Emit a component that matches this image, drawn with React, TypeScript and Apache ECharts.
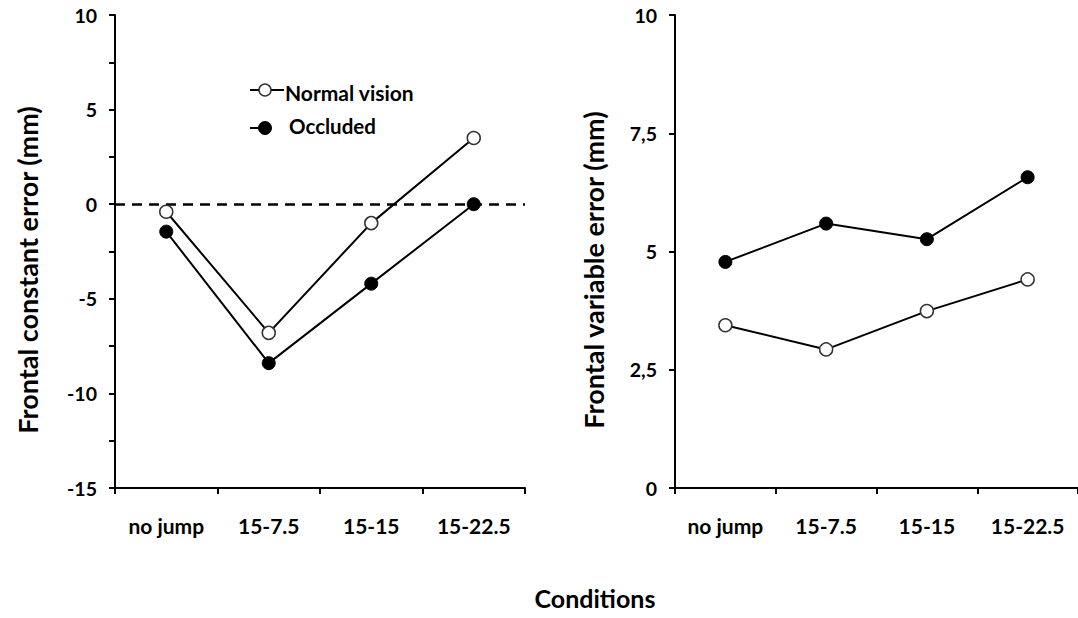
import React, { useEffect, useRef } from "react";
import * as echarts from "echarts";

const categories = ["no jump", "15-7.5", "15-15", "15-22.5"];
const constNormal = [-0.4, -6.8, -1.0, 3.5];
const constOccluded = [-1.45, -8.4, -4.2, 0.0];
const varNormal = [3.44, 2.93, 3.74, 4.41];
const varOccluded = [4.78, 5.59, 5.26, 6.57];
const seriesNames = ["Normal vision", "Occluded"];
const axisNames = ["Frontal constant error (mm)", "Frontal variable error (mm)"];
const xTitle = "Conditions";

const FONT = "Lato, 'Open Sans', sans-serif";
const BLACK = "#000";

export default function App() {
  const ref = useRef<HTMLDivElement>(null);
  useEffect(() => {
    if (!ref.current) return;
    const chart = echarts.init(ref.current, null, { renderer: "svg" });
    const xAxisBase = (gridIndex: number) => ({
      type: "category" as const,
      gridIndex,
      data: categories,
      boundaryGap: true,
      axisLine: { show: true, onZero: false, lineStyle: { color: BLACK, width: 2 } },
      axisTick: { show: true, length: 6, inside: false, lineStyle: { color: BLACK, width: 2 } },
      axisLabel: { color: BLACK, fontFamily: FONT, fontWeight: "bold", fontSize: 21, margin: 27 },
      splitLine: { show: false },
    });
    const lineSeries = (name: string, data: number[], idx: number, filled: boolean, extra: any = {}) => ({
      type: "line",
      name,
      xAxisIndex: idx,
      yAxisIndex: idx,
      data,
      symbol: "circle",
      symbolSize: 13,
      showSymbol: true,
      lineStyle: { color: BLACK, width: 2 },
      itemStyle: filled
        ? { color: BLACK, borderColor: BLACK, borderWidth: 1 }
        : { color: "#fff", borderColor: "#333", borderWidth: 1.5 },
      z: filled ? 3 : 4,
      ...extra,
    });
    chart.setOption({
      animation: false,
      backgroundColor: "#fff",
      grid: [
        { left: 115, top: 15, width: 410, height: 473 },
        { left: 675, top: 15, width: 408, height: 473 },
      ],
      xAxis: [xAxisBase(0), xAxisBase(1)],
      yAxis: [
        {
          type: "value",
          gridIndex: 0,
          min: -15,
          max: 10,
          interval: 2.5,
          axisLine: { show: true, lineStyle: { color: BLACK, width: 2 } },
          axisTick: { show: true, length: 6, lineStyle: { color: BLACK, width: 2 } },
          axisLabel: {
            color: BLACK,
            fontFamily: FONT,
            fontWeight: "bold",
            fontSize: 19.5,
            margin: 18,
            formatter: (v: number) => (Math.abs(v % 5) < 1e-9 ? String(v) : ""),
          },
          splitLine: { show: false },
        },
        {
          type: "value",
          gridIndex: 1,
          min: 0,
          max: 10,
          interval: 2.5,
          axisLine: { show: true, lineStyle: { color: BLACK, width: 2 } },
          axisTick: { show: true, length: 6, lineStyle: { color: BLACK, width: 2 } },
          axisLabel: {
            color: BLACK,
            fontFamily: FONT,
            fontWeight: "bold",
            fontSize: 19.5,
            margin: 18,
            formatter: (v: number) => String(v).replace(".", ","),
          },
          splitLine: { show: false },
        },
      ],
      series: [
        lineSeries(seriesNames[0], constNormal, 0, false, {
          markLine: {
            silent: true,
            symbol: "none",
            label: { show: false },
            lineStyle: { color: BLACK, width: 2.5, type: [10, 7] },
            data: [{ yAxis: 0 }],
            z: 1,
          },
        }),
        lineSeries(seriesNames[1], constOccluded, 0, true),
        lineSeries(seriesNames[0], varNormal, 1, false),
        lineSeries(seriesNames[1], varOccluded, 1, true),
      ],
      graphic: [
        {
          type: "text",
          x: 27,
          y: 270,
          rotation: Math.PI / 2,
          style: {
            text: axisNames[0],
            font: `bold 27px ${FONT}`,
            fill: BLACK,
            align: "center",
            verticalAlign: "middle",
          },
        },
        {
          type: "text",
          x: 593,
          y: 270,
          rotation: Math.PI / 2,
          style: {
            text: axisNames[1],
            font: `bold 27px ${FONT}`,
            fill: BLACK,
            align: "center",
            verticalAlign: "middle",
          },
        },
        {
          type: "text",
          x: 595,
          y: 598,
          style: {
            text: xTitle,
            font: `bold 25px ${FONT}`,
            fill: BLACK,
            align: "center",
            verticalAlign: "middle",
          },
        },
        // legend
        { type: "line", shape: { x1: 250, y1: 90, x2: 284, y2: 90 }, style: { stroke: BLACK, lineWidth: 2 } },
        { type: "circle", shape: { cx: 265, cy: 90, r: 6 }, style: { fill: "#fff", stroke: "#333", lineWidth: 1.5 } },
        {
          type: "text",
          x: 285,
          y: 92,
          style: { text: seriesNames[0], font: `bold 21px ${FONT}`, fill: BLACK, align: "left", verticalAlign: "middle" },
        },
        { type: "line", shape: { x1: 250, y1: 128, x2: 265, y2: 128 }, style: { stroke: BLACK, lineWidth: 2 } },
        { type: "circle", shape: { cx: 265, cy: 128, r: 6.5 }, style: { fill: BLACK, stroke: BLACK, lineWidth: 1 } },
        {
          type: "text",
          x: 289,
          y: 126,
          style: { text: seriesNames[1], font: `bold 20.5px ${FONT}`, fill: BLACK, align: "left", verticalAlign: "middle" },
        },
      ],
    });
    return () => chart.dispose();
  }, []);
  return (
    <div
      ref={ref}
      style={{ position: "fixed", left: 0, top: 0, width: 1078, height: 618, background: "#fff" }}
    />
  );
}
